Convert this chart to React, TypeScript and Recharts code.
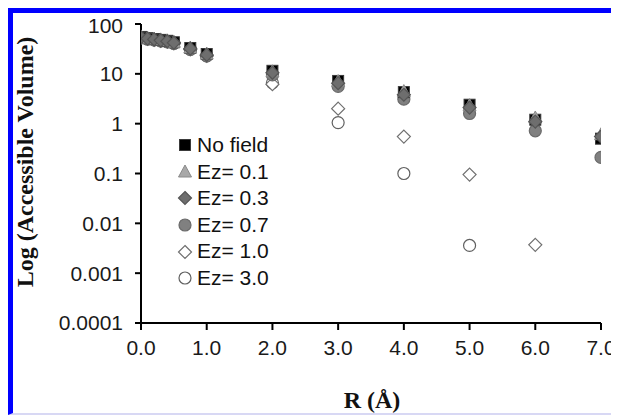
import { Label, Scatter, ScatterChart, XAxis, YAxis } from 'recharts'

const radii = [0, 0.1, 0.2, 0.3, 0.4, 0.5, 0.75, 1, 2, 3, 4, 5, 6, 7]
const noField = [55, 52, 50, 48, 46, 43, 33, 25, 11.5, 7.2, 4.3, 2.4, 1.2, 0.5]
const ez01 = [55, 52, 50, 48, 46, 43, 33, 25, 11, 7, 4.4, 2.3, 1.3, 0.6]
const ez03 = [54, 51, 49, 47, 45, 42, 32, 24, 10.5, 6.5, 3.8, 2.1, 1.1, 0.55]
const ez07 = [53, 50, 48, 46, 44, 41, 31, 23, 9.5, 5.6, 3.1, 1.6, 0.72, 0.21]
const ez10 = [53, 50, 48, 46, 44, 41, 31, 23, 6.2, 2.0, 0.55, 0.095, 0.0037, null]
const ez30 = [53, 50, 48, 46, 44, 41, 31, 23, 6.6, 1.05, 0.1, 0.0036, null, null]
const xTicks = [0, 1, 2, 3, 4, 5, 6, 7]
const yTicks = [0.0001, 0.001, 0.01, 0.1, 1, 10, 100]

type Kind = 'square' | 'triangle' | 'diamond' | 'circle'

const seriesList: { name: string; values: (number | null)[]; kind: Kind; fill: string; stroke: string; layer: number }[] = [
  { name: 'No field', values: noField, kind: 'square', fill: '#000000', stroke: '#3a3a3a', layer: 3 },
  { name: 'Ez= 0.1', values: ez01, kind: 'triangle', fill: '#a8a8a8', stroke: '#8a8a8a', layer: 4 },
  { name: 'Ez= 0.3', values: ez03, kind: 'diamond', fill: '#6e6e6e', stroke: '#555555', layer: 5 },
  { name: 'Ez= 0.7', values: ez07, kind: 'circle', fill: '#808080', stroke: '#6a6a6a', layer: 2 },
  { name: 'Ez= 1.0', values: ez10, kind: 'diamond', fill: '#ffffff', stroke: '#707070', layer: 1 },
  { name: 'Ez= 3.0', values: ez30, kind: 'circle', fill: '#ffffff', stroke: '#606060', layer: 0 },
]

function Marker({ kind, cx, cy, fill, stroke }: { kind: Kind; cx: number; cy: number; fill: string; stroke: string }) {
  if (kind === 'square') return <rect x={cx - 5.5} y={cy - 5.5} width={11} height={11} fill={fill} stroke={stroke} strokeWidth={1} />
  if (kind === 'triangle')
    return <polygon points={`${cx},${cy - 7} ${cx + 6.5},${cy + 5} ${cx - 6.5},${cy + 5}`} fill={fill} stroke={stroke} strokeWidth={1} />
  if (kind === 'diamond')
    return <polygon points={`${cx},${cy - 6.5} ${cx + 6.5},${cy} ${cx},${cy + 6.5} ${cx - 6.5},${cy}`} fill={fill} stroke={stroke} strokeWidth={1.2} />
  return <circle cx={cx} cy={cy} r={6} fill={fill} stroke={stroke} strokeWidth={1.2} />
}

function LegendBox() {
  return (
    <div
      style={{
        position: 'absolute',
        left: 164,
        top: 119,
        fontFamily: 'Liberation Sans, Arial, sans-serif',
        fontSize: 21,
        lineHeight: '26.6px',
        color: '#111',
      }}
    >
      {seriesList.map((s) => (
        <div key={s.name} style={{ display: 'flex', alignItems: 'center', height: 26.6 }}>
          <svg width={16} height={16} style={{ marginRight: 4 }}>
            <Marker kind={s.kind} cx={8} cy={8} fill={s.fill} stroke={s.stroke} />
          </svg>
          <span>{s.name}</span>
        </div>
      ))}
    </div>
  )
}

const tickStyle = { fontFamily: 'Liberation Sans, Arial, sans-serif', fontSize: 21, fill: '#1a1a1a' }
const drawOrder = [...seriesList].sort((a, b) => a.layer - b.layer)

export default function App() {
  return (
    <div
      style={{
        position: 'relative',
        width: 610,
        height: 407,
        boxSizing: 'border-box',
        borderTop: '5px solid #0000ff',
        borderLeft: '5px solid #0000ff',
        borderRight: '2px solid #6f6fff',
        borderBottom: '2px solid #d8d8f4',
        background: '#fff',
      }}
    >
      <ScatterChart width={603} height={400} margin={{ top: 11, right: 15, bottom: 0, left: 0 }}>
        <XAxis
          type="number"
          dataKey="x"
          domain={[0, 7]}
          ticks={xTicks}
          tickFormatter={(v: number) => v.toFixed(1)}
          tick={tickStyle}
          tickSize={7}
          tickMargin={10}
          height={90}
          stroke="#000"
          strokeWidth={2}
          allowDataOverflow
        >
          <Label
            content={() => (
              <text x={359} y={395} textAnchor="middle" fontFamily="Liberation Serif, Times New Roman, serif" fontWeight="bold" fontSize={24} fill="#111">
                R (Å)
              </text>
            )}
          />
        </XAxis>
        <YAxis
          type="number"
          dataKey="y"
          scale="log"
          domain={[0.0001, 100]}
          ticks={yTicks}
          tickFormatter={(v: number) => String(v)}
          tick={tickStyle}
          tickSize={6}
          tickMargin={12}
          width={128}
          stroke="#000"
          strokeWidth={2}
          allowDataOverflow
        >
          <Label
            content={() => (
              <text
                x={20}
                y={149}
                transform="rotate(-90 20 149)"
                textAnchor="middle"
                fontFamily="Liberation Serif, Times New Roman, serif"
                fontWeight="bold"
                fontSize={24}
                fill="#111"
              >
                Log (Accessible Volume)
              </text>
            )}
          />
        </YAxis>
        {drawOrder.map((s) => (
          <Scatter
            key={s.name}
            name={s.name}
            data={radii
              .map((x, i) => ({ x, y: s.values[i] }))
              .filter((p) => p.y !== null)}
            isAnimationActive={false}
            shape={(props: any) => <Marker kind={s.kind} cx={props.cx} cy={props.cy} fill={s.fill} stroke={s.stroke} />}
          />
        ))}
      </ScatterChart>
      <LegendBox />
    </div>
  )
}
